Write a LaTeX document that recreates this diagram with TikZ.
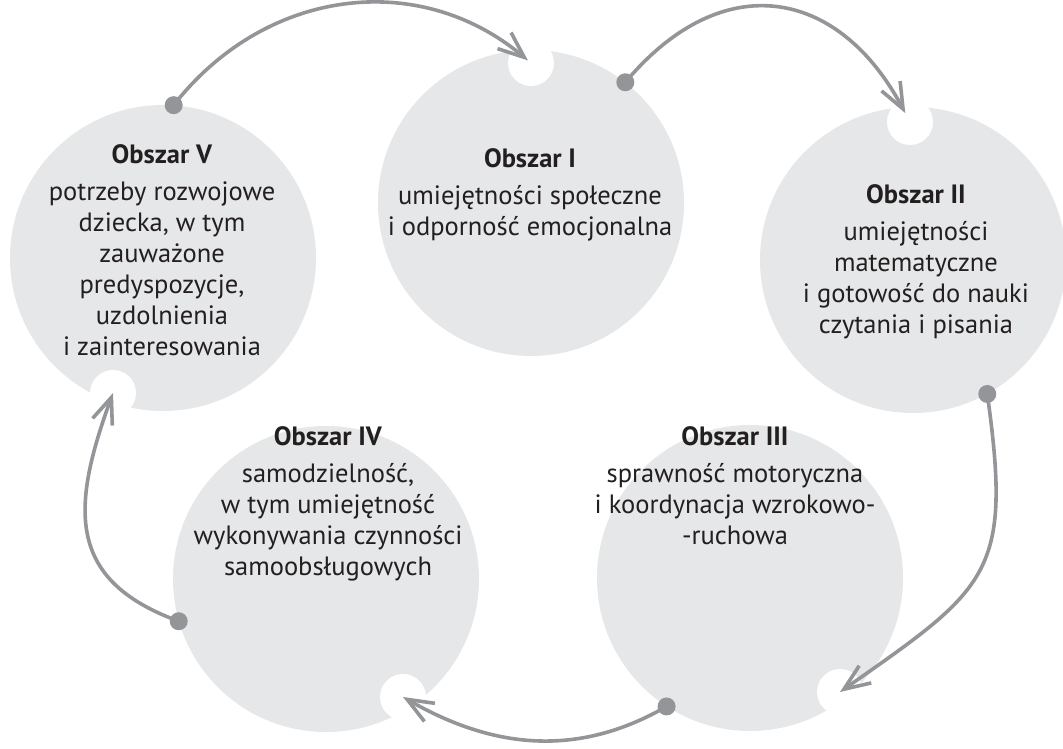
\documentclass[tikz,border=0pt]{standalone}
\usepackage{fontspec}
\setmainfont{PT Sans}
\usetikzlibrary{arrows.meta, positioning, calc}
\definecolor{obszarTlo}{RGB}{230,231,232}
\definecolor{szary}{RGB}{147,149,152}
\definecolor{tekst}{RGB}{35,31,32}

\begin{document}
\begin{tikzpicture}
        [
        x=1pt, y=1pt,
            obszar/.style={
                circle,
                fill=obszarTlo,
                minimum size=306pt,
                inner sep=0pt
            },
            wyciecie/.style={
                circle,
                fill=white,
                minimum size=46pt,
                inner sep=0pt
            },
            opis/.style={
                align=center,
                anchor=north,
                inner sep=0pt,
                text=tekst,
                font=\fontsize{26.5}{31}\selectfont
            },
            kropka/.style={
                circle,
                fill=szary,
                minimum size=18pt,
                inner sep=0pt
            },
            strzalka/.style={
                -{Straight Barb[length=26pt,width=21pt]},
                draw=szary,
                line width=3.6pt
            }
        ]
        \useasboundingbox (0,0) rectangle (1063,749);

        % obszary
        \node(obszarV) [obszar] at (163,491) {};
        \node(obszarI) [obszar] at (531,546) {};
        \node(obszarII) [obszar] at (913,489) {};
        \node(obszarIII) [obszar] at (750,171) {};
        \node(obszarIV) [obszar] at (326,170) {};

        % wyciecia pod groty
        \node(wyciecieI) [wyciecie] at (531,686) {};
        \node(wyciecieII) [wyciecie] at (910,627) {};
        \node(wyciecieIII) [wyciecie] at (840,57) {};
        \node(wyciecieIV) [wyciecie] at (403,52) {};
        \node(wyciecieV) [wyciecie] at (113,356) {};

        % opisy
        \node(opisV) [opis] at (162,605) {\textbf{Obszar V}\\[6pt]potrzeby rozwojowe\\dziecka, w tym\\zauważone\\predyspozycje,\\uzdolnienia\\i zainteresowania};
        \node(opisI) [opis] at (530,601) {\textbf{Obszar I}\\[6pt]umiejętności społeczne\\i odporność emocjonalna};
        \node(opisII) [opis] at (916,565) {\textbf{Obszar II}\\[6pt]umiejętności\\matematyczne\\i gotowość do nauki\\czytania i pisania};
        \node(opisIII) [opis] at (735,323) {\textbf{Obszar III}\\[6pt]sprawność motoryczna\\i koordynacja wzrokowo-\\-ruchowa};
        \node(opisIV) [opis] at (328,323) {\textbf{Obszar IV}\\[6pt]samodzielność,\\w tym umiejętność\\wykonywania czynności\\samoobsługowych};

        % kropki
        \node(kropkaV) [kropka] at (obszarV.86) {};
        \node(kropkaI) [kropka] at (obszarI.52) {};
        \node(kropkaII) [kropka] at (obszarII.-61) {};
        \node(kropkaIII) [kropka] at (obszarIII.237) {};
        \node(kropkaIV) [kropka] at (obszarIV.196) {};

        \draw[strzalka, shorten >=4pt] (kropkaV.center) to[out=52,in=140,looseness=1.05] (wyciecieI.center);
        \draw[strzalka, shorten >=10pt] (kropkaI.center) to[out=50,in=118,looseness=1.35] (wyciecieII.center);
        \draw[strzalka] (kropkaII.center) to[out=-82,in=35,looseness=1.4] (wyciecieIII.center);
        \draw[strzalka] (kropkaIII.center) to[out=210,in=-30] (wyciecieIV.center);
        \draw[strzalka] (kropkaIV.center) to[out=160,in=250,looseness=1.3] (wyciecieV.center);
\end{tikzpicture}
\end{document}
